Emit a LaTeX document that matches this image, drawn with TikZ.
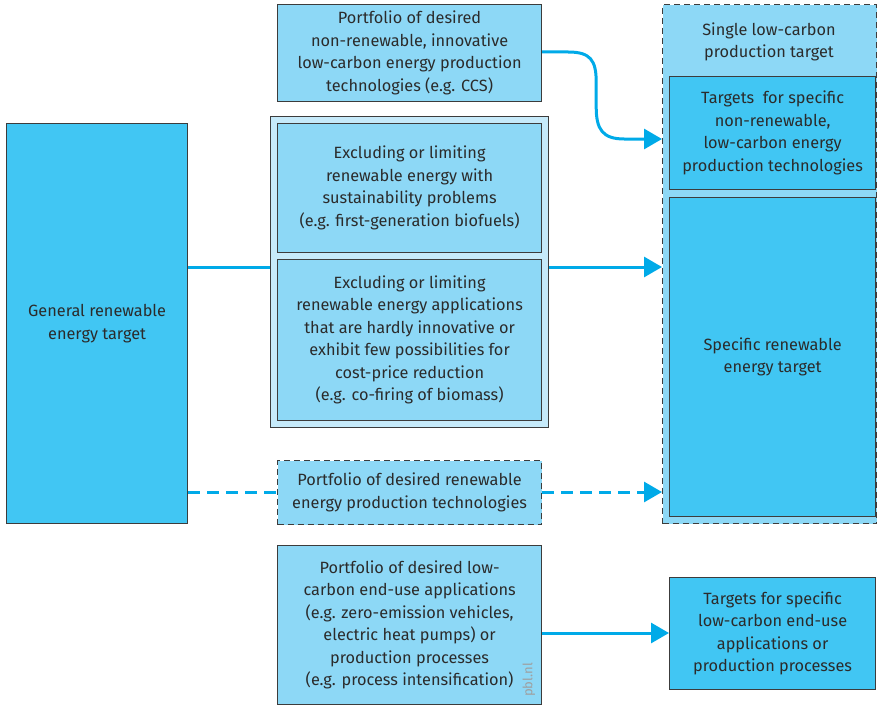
\documentclass[tikz,border=0pt]{standalone}
\usepackage{fontspec}
\setmainfont{Fira Sans}
\usetikzlibrary{arrows.meta}
\definecolor{dk}{HTML}{41C6F3}
\definecolor{lt}{HTML}{8DD8F6}
\definecolor{grp}{HTML}{C6EAFA}
\definecolor{cn}{HTML}{00AAE8}
\definecolor{bd}{HTML}{3C3C3C}
\definecolor{tx}{HTML}{2B2B2B}
\tikzset{
  txt/.style={text=tx, align=center, font=\fontsize{16.3}{22.5}\selectfont},
  box/.style={txt, draw=bd, line width=1.2pt, anchor=north west, inner sep=0pt},
  dkbox/.style={box, fill=dk},
  ltbox/.style={box, fill=lt},
  dashbox/.style={ltbox, draw=bd, dash pattern=on 6pt off 4pt},
  conn/.style={draw=cn, line width=3pt},
  arr/.style={conn, -{Triangle[length=18pt,width=20pt]}},
  dashconn/.style={arr, dash pattern=on 12pt off 7pt},
}
\begin{document}
\begin{tikzpicture}[x=1pt,y=-1pt]
\useasboundingbox (0,0) rectangle (877,706);
% container
\node[dashbox, minimum width=214pt, minimum height=519pt] (C) at (662,4) {};
\node[txt] (Ct) at (769,42) {Single low-carbon\\production target};
\node[dkbox, minimum width=206pt, minimum height=113pt] (T1) at (669,76) {Targets\ \ for specific\\non-renewable,\\low-carbon energy\\production technologies};
\node[dkbox, minimum width=206pt, minimum height=319pt] (T2) at (669,197) {Specific renewable\\energy target};
% top portfolio
\node[ltbox, minimum width=264pt, minimum height=97pt] (P1) at (277,4) {Portfolio of desired\\non-renewable, innovative\\low-carbon energy production\\technologies (e.g. CCS)};
% left
\node[dkbox, minimum width=181pt, minimum height=400pt] (L) at (6,123) {General renewable\\energy target};
% group
\node[box, fill=grp, minimum width=278pt, minimum height=311pt] (G) at (270,116) {};
\node[ltbox, minimum width=264pt, minimum height=129pt] (E1) at (277,123) {Excluding or limiting\\renewable energy with\\sustainability problems\\(e.g. first-generation biofuels)};
\node[ltbox, minimum width=264pt, minimum height=161pt] (E2) at (277,259) {Excluding or limiting\\renewable energy applications\\that are hardly innovative or\\exhibit few possibilities for\\cost-price reduction\\(e.g. co-firing of biomass)};
% dashed portfolio
\node[dashbox, minimum width=264pt, minimum height=64pt] (P2) at (277,460) {Portfolio of desired renewable\\energy production technologies};
% bottom
\node[ltbox, minimum width=264pt, minimum height=159pt] (P3) at (277,545) {Portfolio of desired low-\\carbon end-use applications\\(e.g. zero-emission vehicles,\\electric heat pumps) or\\production processes\\(e.g. process intensification)};
\node[dkbox, minimum width=206pt, minimum height=112pt] (T3) at (669,577) {Targets for specific\\low-carbon end-use\\applications or\\production processes};
\node[rotate=90, text=gray!75, font=\fontsize{13}{15}\selectfont, inner sep=0pt] (pbl) at (529,680) {pbl.nl};
% connectors
\coordinate (ya) at (0,267);
\coordinate (yb) at (0,492);
\coordinate (yc) at (0,633);
\coordinate (yd) at (0,139);
\coordinate (ye) at (0,52);
\draw[conn] (L.east |- ya) -- (G.west |- ya);
\draw[arr] (G.east |- ya) -- (C.west |- ya);
\draw[conn, dash pattern=on 12pt off 7pt] (L.east |- yb) -- (P2.west |- yb);
\draw[dashconn] (P2.east |- yb) -- (C.west |- yb);
\draw[arr] (P3.east |- yc) -- (T3.west |- yc);
\draw[arr] (P1.east |- ye) -- ++(26,0) .. controls +(22,0) and +(0,-22) .. ++(28,30) -- ++(0,25) .. controls +(0,22) and +(-22,0) .. ++(28,32) -- (C.west |- yd);
\end{tikzpicture}
\end{document}
